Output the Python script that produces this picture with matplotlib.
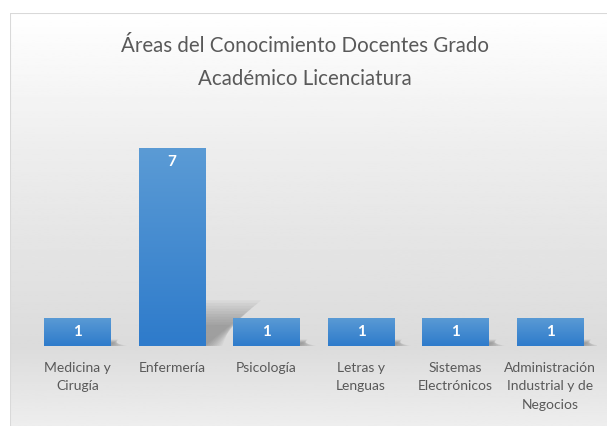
import numpy as np
import matplotlib.pyplot as plt
from matplotlib.colors import LinearSegmentedColormap
from matplotlib.patches import Rectangle, Polygon

categories = ['Medicina y\nCirugía', 'Enfermería', 'Psicología', 'Letras y\nLenguas',
              'Sistemas\nElectrónicos', 'Administración\nIndustrial y de\nNegocios']
values = [1, 7, 1, 1, 1, 1]
title = 'Áreas del Conocimiento Docentes Grado\nAcadémico Licenciatura'

plt.rcParams['font.family'] = ['Lato', 'DejaVu Sans']

W, H = 607, 426
fig = plt.figure(figsize=(6.074, 4.264), dpi=100)

# chart area background (vertical gradient, Excel style); box runs past right/bottom edge
bg = fig.add_axes([10 / W, -0.1, 1.2, 1.1 - 13 / H])
bg.set_xlim(0, 1)
bg.set_ylim(0, 1)
grad = np.interp(np.linspace(1, 0, 256), [0, 0.27, 0.7, 1.0], [0.97, 0.86, 0.93, 1.0])
bg.imshow(grad[:, None], aspect='auto', cmap='gray', vmin=0, vmax=1,
          extent=[0, 1, 0, 1], zorder=0)
bg.add_patch(Rectangle((0, 0), 1, 1, fill=False, ec='#d9d9d9', lw=1.5, zorder=2))
bg.axis('off')

# bars
ax = fig.add_axes([30 / W, 80 / H, 567 / W, 226.3 / H])
ax.patch.set_alpha(0)
x = np.arange(len(values))
bars = ax.bar(x, values, width=0.7, color='#4a8ad0', zorder=3)

# soft perspective shadows behind bars
for b, v in zip(bars, values):
    x0, x1 = b.get_x(), b.get_x() + b.get_width()
    for k in range(10):
        s = 1 - k * 0.06
        h = 0.23 * v * s
        dx = 0.085 * v * s
        ax.add_patch(Polygon([(x0, 0), (x1 + 0.02 * k, 0), (x1 + dx, h), (x0 + dx, h)],
                             closed=True, fc='#505050', ec='none', alpha=0.05, zorder=2))

# blue gradient fill on bars
cmap = LinearSegmentedColormap.from_list('blu', ['#2e7bcb', '#5b9bd5'])
for b in bars:
    im = ax.imshow(np.linspace(0, 1, 100)[:, None], cmap=cmap, aspect='auto', origin='lower',
                   extent=[b.get_x(), b.get_x() + b.get_width(), 0, b.get_height()], zorder=4)
    im.set_clip_path(b)

for b, v in zip(bars, values):
    ax.annotate(str(v), (b.get_x() + b.get_width() / 2, v), xytext=(0, -10),
                textcoords='offset points', ha='center', va='center',
                color='white', fontsize=11, fontweight='bold', zorder=5)

ax.set_xlim(-0.5, len(values) - 0.5)
ax.set_ylim(0, 8)
ax.set_xticks(x)
ax.set_xticklabels(categories, fontsize=10, color='#595959', linespacing=1.65)
ax.tick_params(axis='x', length=0, pad=11)
ax.set_yticks([])
for s in ax.spines.values():
    s.set_visible(False)

fig.text(0.502, 1 - 62.5 / H, title, ha='center', va='center', fontsize=14.8,
         color='#595959', linespacing=1.85)

fig.savefig('out.png', dpi=100)
